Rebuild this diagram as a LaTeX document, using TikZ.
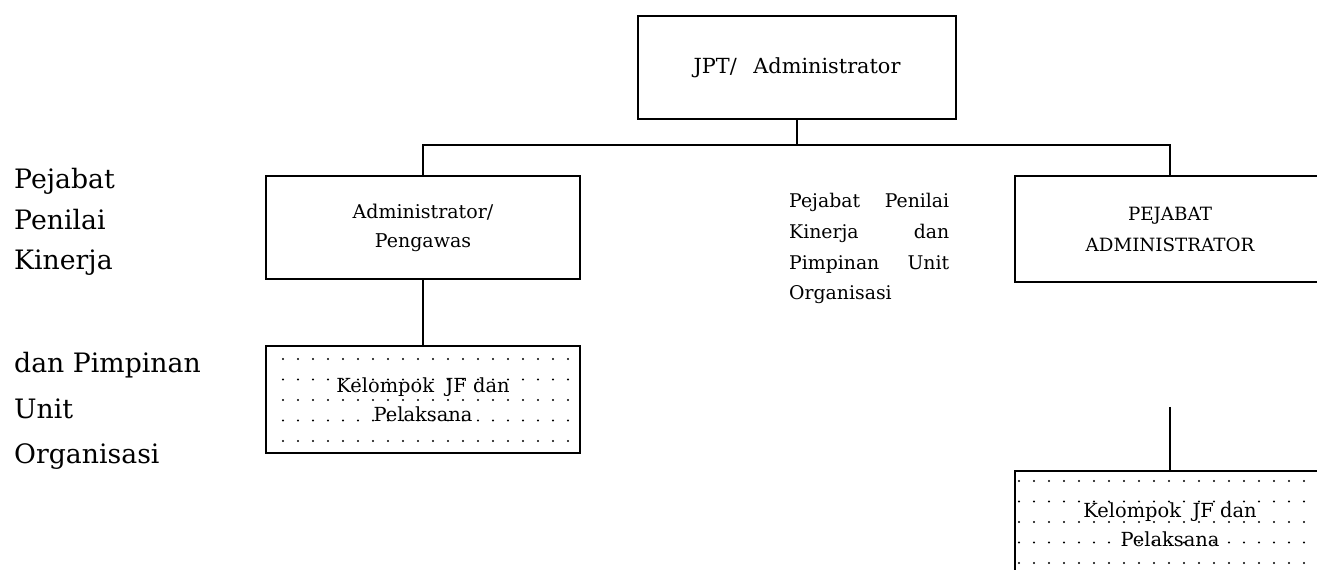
\documentclass[tikz,border=0pt]{standalone}
\usepackage{fontspec}
\setmainfont{DejaVu Serif}
\begin{document}
\begin{tikzpicture}[x=0.025cm,y=-0.025cm,line width=1.7pt,
    box/.style={draw,rectangle,inner sep=0pt,align=center,minimum width=7.85cm,minimum height=2.575cm},
    dotbox/.style={box,minimum height=2.675cm,font=\fontsize{13.8}{20.6}\selectfont},
    side/.style={anchor=west,inner sep=0pt,align=left,font=\fontsize{19}{29}\selectfont}]
  \clip (0,0) rectangle (1317,570);
  \node[box,minimum width=7.95cm,font=\fontsize{14.8}{17}\selectfont] (jpt) at (797,67.5) {JPT/\hspace{0.8em}Administrator};
  \node[box,font=\fontsize{13.5}{20.6}\selectfont] (adm) at (423,227.5) {Administrator/\\Pengawas};
  \node[box,minimum width=7.75cm,minimum height=2.65cm,font=\fontsize{13}{22}\selectfont] (pejabat) at (1170,229) {PEJABAT\\ADMINISTRATOR};
  \node[dotbox] (kelA) at (423,399.5) {Kelompok\hspace{0.6em}JF dan\\Pelaksana};
  \node[dotbox,minimum width=7.75cm] (kelB) at (1170,524.5) {Kelompok\hspace{0.6em}JF dan\\Pelaksana};
  \node[anchor=west,inner sep=0pt,text width=4cm,align=left,font=\fontsize{13.4}{22}\selectfont] (pimpinan) at (788,248.5) {Pejabat\hfill Penilai\\Kinerja\hfill dan\\Pimpinan\hfill Unit\\Organisasi};
  \node[side] (penilai) at (13,222) {Pejabat\\Penilai\\Kinerja};
  \node[side,font=\fontsize{19}{32.4}\selectfont] (unit) at (13,411) {dan Pimpinan\\Unit\\Organisasi};
  \coordinate (bus) at (jpt.south |- 0,145);
  \coordinate (stubB) at (1170,407);
  \draw (jpt.south) -- (bus);
  \draw (adm.north) |- (bus) -| (pejabat.north);
  \draw (adm.south) -- (kelA.north);
  \draw (stubB) -- (kelB.north);
  \foreach \c in {0,...,19} \foreach \r in {0,...,4} \fill (283+15*\c,359+20.5*\r) circle (0.8pt);
  \foreach \c in {0,...,19} \foreach \r in {0,...,4} \fill (1019+15*\c,481+20.5*\r) circle (0.8pt);
\end{tikzpicture}
\end{document}
